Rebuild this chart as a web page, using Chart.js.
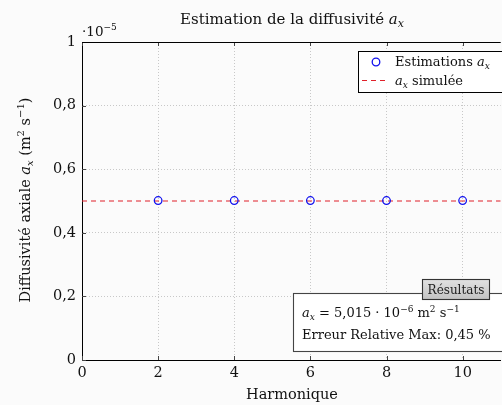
<!DOCTYPE html>
<html>
<head>
<meta charset="utf-8">
<script src="https://cdn.jsdelivr.net/npm/chart.js@4/dist/chart.umd.min.js"></script>
<style>
  html, body { margin: 0; padding: 0; background: #fbfbfb; overflow: hidden; }
  #wrap { position: absolute; left: 0; top: 0; width: 506px; height: 405px; }
</style>
</head>
<body>
<div id="wrap"><canvas id="chart" width="506" height="405"></canvas></div>
<script>
/* ----- donnees ----- */
const harmoniques = [2, 4, 6, 8, 10];
const estimations = [0.5015, 0.5015, 0.5015, 0.5015, 0.5015]; // x 1e-5 m2/s
const simuleeX = [0, 11];
const simuleeY = [0.5, 0.5];
const xTicks = [0, 2, 4, 6, 8, 10];
const yTicks = [0, 0.2, 0.4, 0.6, 0.8, 1];

const FONT = "'DejaVu Serif', serif";
const BASE = 14.5;

/* ----- texte "mathematique" ----- */
// parts: [texte, style] ; style: n normal, i italique, sub indice, sup exposant
function fontFor(style, size) {
  if (style === "i") return `italic ${size}px ${FONT}`;
  if (style === "sub") return `italic ${Math.round(size * 0.7)}px ${FONT}`;
  if (style === "sup") return `${Math.round(size * 0.7)}px ${FONT}`;
  return `${size}px ${FONT}`;
}
function richWidth(ctx, parts, size) {
  let w = 0;
  parts.forEach(([t, s]) => {
    ctx.font = fontFor(s, size);
    w += ctx.measureText(t).width;
  });
  return w;
}
function drawRich(ctx, parts, x, y, align, size) {
  size = size || BASE;
  const w = richWidth(ctx, parts, size);
  let cx = align === "center" ? x - w / 2 : align === "right" ? x - w : x;
  ctx.textAlign = "left";
  ctx.textBaseline = "alphabetic";
  parts.forEach(([t, s]) => {
    ctx.font = fontFor(s, size);
    let dy = 0;
    if (s === "sub") dy = size * 0.22;
    if (s === "sup") dy = -size * 0.42;
    ctx.fillText(t, cx, y + dy);
    cx += ctx.measureText(t).width;
  });
}

/* ----- decorations ----- */
const decorations = {
  id: "decorations",
  beforeDatasetsDraw(chart) {
    const { ctx, chartArea: a, scales } = chart;
    ctx.save();
    ctx.strokeStyle = "#444";
    ctx.lineWidth = 1;
    ctx.beginPath();
    xTicks.forEach((v) => {
      const px = Math.round(scales.x.getPixelForValue(v)) + 0.5;
      ctx.moveTo(px, a.bottom); ctx.lineTo(px, a.bottom - 4);
      ctx.moveTo(px, a.top); ctx.lineTo(px, a.top + 4);
    });
    yTicks.forEach((v) => {
      const py = Math.round(scales.y.getPixelForValue(v)) + 0.5;
      ctx.moveTo(a.left, py); ctx.lineTo(a.left + 4, py);
    });
    ctx.stroke();
    // cadre haut
    ctx.strokeStyle = "#000";
    ctx.beginPath();
    ctx.moveTo(a.left, a.top + 0.5); ctx.lineTo(a.right, a.top + 0.5);
    ctx.stroke();
    ctx.restore();
  },
  afterDraw(chart) {
    const { ctx, chartArea: a } = chart;
    ctx.save();
    ctx.fillStyle = "#111";

    // titre
    drawRich(ctx, [["Estimation de la diffusivité ", "n"], ["a", "i"], ["x", "sub"]], 292, 24, "center", 15);
    // facteur d'echelle
    drawRich(ctx, [["·10", "n"], ["−5", "sup"]], a.left, 36, "left", 13.5);
    // titre axe x
    drawRich(ctx, [["Harmonique", "n"]], 292, 399, "center", BASE);
    // titre axe y
    ctx.save();
    ctx.translate(30, 200);
    ctx.rotate(-Math.PI / 2);
    drawRich(ctx, [["Diffusivité axiale ", "n"], ["a", "i"], ["x", "sub"], [" (m", "n"], ["2", "sup"], [" s", "n"], ["−1", "sup"], [")", "n"]], 0, 0, "center", BASE);
    ctx.restore();

    // legende
    ctx.fillStyle = "#fff";
    ctx.fillRect(358, 51, 145, 41);
    ctx.strokeStyle = "#000";
    ctx.lineWidth = 1;
    ctx.strokeRect(358.5, 51.5, 145, 41);
    const est = chart.data.datasets[0];
    const sim = chart.data.datasets[1];
    ctx.strokeStyle = est.borderColor;
    ctx.lineWidth = est.borderWidth;
    ctx.beginPath();
    ctx.arc(376, 62, est.pointRadius, 0, Math.PI * 2);
    ctx.stroke();
    ctx.strokeStyle = sim.borderColor;
    ctx.lineWidth = sim.borderWidth;
    ctx.setLineDash(sim.borderDash);
    ctx.beginPath();
    ctx.moveTo(362, 80.5); ctx.lineTo(389, 80.5);
    ctx.stroke();
    ctx.setLineDash([]);
    ctx.fillStyle = "#111";
    drawRich(ctx, [["Estimations ", "n"], ["a", "i"], ["x", "sub"]], 395, 66, "left", 13);
    drawRich(ctx, [["a", "i"], ["x", "sub"], [" simulée", "n"]], 395, 85, "left", 13);

    // boite resultats
    ctx.fillStyle = "#fff";
    ctx.fillRect(293, 293, 210, 58);
    ctx.strokeStyle = "#444";
    ctx.strokeRect(293.5, 293.5, 210, 58);
    const g = ctx.createLinearGradient(0, 279, 0, 299);
    g.addColorStop(0, "#e2e2e2");
    g.addColorStop(1, "#c4c4c4");
    ctx.fillStyle = g;
    ctx.fillRect(422, 279, 67, 20);
    ctx.strokeStyle = "#333";
    ctx.strokeRect(422.5, 279.5, 67, 20);
    ctx.fillStyle = "#222";
    drawRich(ctx, [["Résultats", "n"]], 456, 294, "center", 12);
    ctx.fillStyle = "#111";
    drawRich(ctx, [["a", "i"], ["x", "sub"], [" = 5,015 · 10", "n"], ["−6", "sup"], [" m", "n"], ["2", "sup"], [" s", "n"], ["−1", "sup"]], 302, 317, "left", 13);
    drawRich(ctx, [["Erreur Relative Max: 0,45 %", "n"]], 302, 339, "left", 13);
    ctx.restore();
  }
};

/* ----- graphique ----- */
const fmt = (v) => String(v).replace(".", ",");

new Chart("chart", {
  type: "scatter",
  data: {
    datasets: [
      {
        label: "Estimations",
        data: harmoniques.map((h, i) => ({ x: h, y: estimations[i] })),
        borderColor: "#1010ee",
        backgroundColor: "rgba(0,0,0,0)",
        borderWidth: 1.3,
        pointRadius: 3.8,
        showLine: false,
      },
      {
        label: "simulée",
        data: simuleeX.map((x, i) => ({ x: x, y: simuleeY[i] })),
        borderColor: "#e0202a",
        borderWidth: 1.1,
        borderDash: [5, 4],
        pointRadius: 0,
        showLine: true,
      },
    ],
  },
  options: {
    responsive: false,
    animation: false,
    layout: { padding: { top: 42, right: 0, bottom: 0, left: 0 } },
    plugins: { legend: { display: false }, title: { display: false }, tooltip: { enabled: false } },
    scales: {
      x: {
        type: "linear",
        min: 0,
        max: 11,
        afterBuildTicks: (s) => { s.ticks = xTicks.map((v) => ({ value: v })); },
        afterFit: (s) => { s.height = 45; },
        grid: { color: "#c8c8c8", drawTicks: false },
        border: { display: true, color: "#000", width: 1, dash: [1, 2] },
        ticks: { padding: 5, color: "#111", font: { family: FONT, size: BASE }, callback: (v) => fmt(v) },
      },
      y: {
        type: "linear",
        min: 0,
        max: 1,
        afterBuildTicks: (s) => { s.ticks = yTicks.map((v) => ({ value: v })); },
        afterFit: (s) => { s.width = 82; },
        grid: { color: "#c8c8c8", drawTicks: false },
        border: { display: true, color: "#000", width: 1, dash: [1, 2] },
        ticks: { padding: 6, color: "#111", font: { family: FONT, size: BASE }, callback: (v) => fmt(v) },
      },
    },
  },
  plugins: [decorations],
});
</script>
</body>
</html>
